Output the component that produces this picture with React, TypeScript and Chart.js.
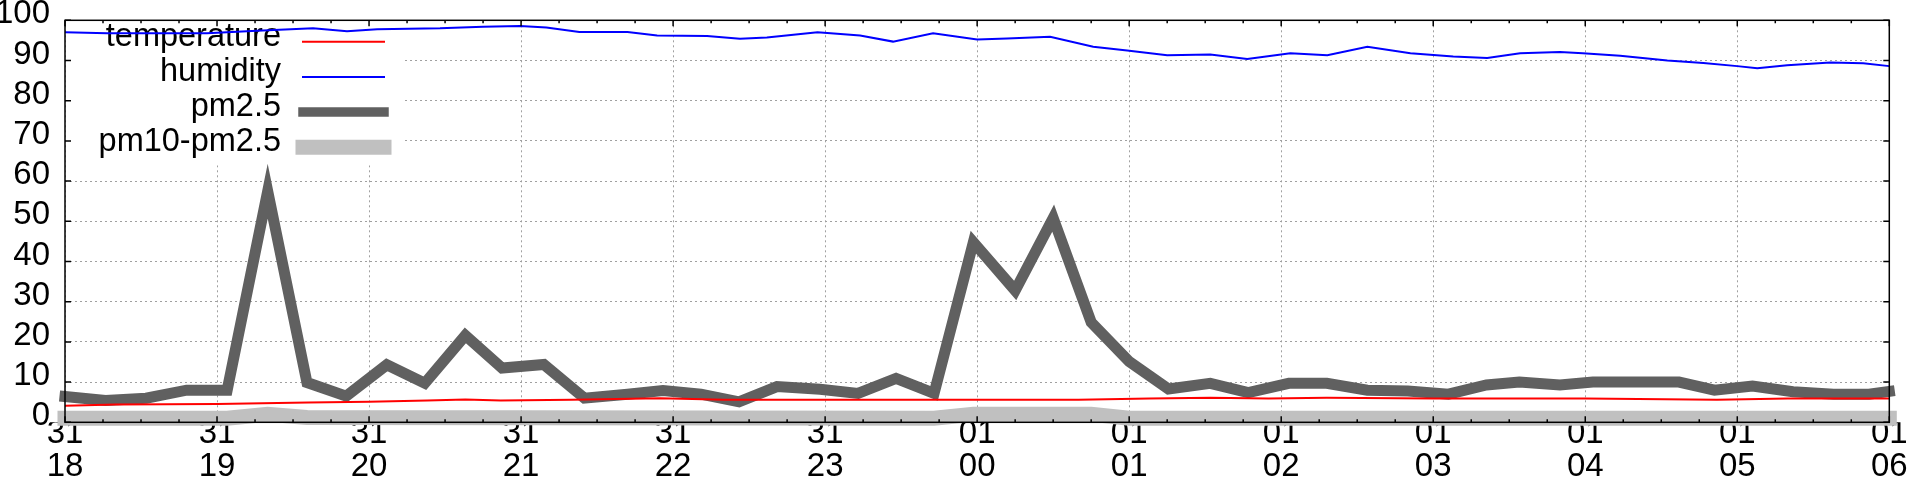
import React, { useEffect, useRef } from 'react';
import { Chart, registerables } from 'chart.js';

Chart.register(...registerables);

// ---- data (x = minutes after 31 18:00) ----
const legendLabels = ['temperature', 'humidity', 'pm2.5', 'pm10-pm2.5'];

const pm25Times = [0, 16, 32, 48, 64, 80, 95.5, 111, 127, 142, 158, 172.5, 189, 205, 222, 236, 251, 266, 281, 298, 313, 328, 343, 358.5, 375, 390, 405, 420, 435.5, 452, 467, 483, 498, 514, 530, 546, 561, 574, 590, 603, 620, 637, 651, 666, 682, 698, 712, 720];
const pm25Values = [6.4, 5.4, 6.0, 8.0, 8.0, 57.5, 9.9, 6.5, 14.3, 9.7, 21.6, 13.5, 14.4, 6.0, 7.0, 7.9, 7.0, 5.1, 8.9, 8.2, 7.2, 10.9, 7.2, 44.8, 32.8, 50.8, 24.9, 15.1, 8.3, 9.7, 7.4, 9.7, 9.7, 8.0, 7.8, 7.0, 9.3, 10.0, 9.3, 10.0, 10.0, 10.0, 8.0, 9.0, 7.6, 7.0, 7.0, 7.7];

const pmCoarseTimes = [0, 64, 80, 95.5, 343, 358.5, 375, 390, 405, 420, 720];
const pmCoarseValues = [1.0, 1.0, 2.0, 1.2, 1.0, 2.0, 2.0, 2.0, 2.0, 1.0, 1.0];

const humidityTimes = [0, 16.6, 33.6, 56, 75.8, 97.9, 111.3, 123.2, 148, 165, 179.6, 190, 203, 222, 233.7, 253.4, 266.4, 277, 297, 313.8, 326.8, 342.6, 360, 371.8, 388.8, 405.8, 419.2, 435, 452, 466.6, 483.6, 498.2, 514, 531, 547.9, 561.3, 574.3, 590, 599, 613.8, 632.4, 646.6, 660, 667.9, 679.7, 696.7, 709.7, 720];
const humidityValues = [97.0, 96.8, 96.8, 96.8, 97.4, 98.0, 97.3, 97.8, 98.0, 98.4, 98.6, 98.2, 97.1, 97.1, 96.2, 96.1, 95.4, 95.7, 97.0, 96.2, 94.7, 96.8, 95.2, 95.5, 95.9, 93.4, 92.5, 91.3, 91.5, 90.4, 91.8, 91.3, 93.4, 91.8, 91.0, 90.6, 91.8, 92.1, 91.8, 91.2, 90.0, 89.4, 88.6, 88.1, 88.8, 89.5, 89.3, 88.6];

const temperatureTimes = [0, 20, 60, 96, 120, 143, 158, 172, 200, 235, 260, 400, 428, 452, 475, 498, 540, 600, 652, 680, 720];
const temperatureValues = [4.1, 4.4, 4.55, 4.9, 5.1, 5.4, 5.7, 5.4, 5.6, 6.0, 5.6, 5.6, 5.9, 6.1, 5.9, 6.1, 5.9, 5.9, 5.6, 5.9, 5.9];

const startHour = 18;
const startDay = '31';
const nextDay = '01';
const xMin = 0;
const xMax = 720;
const yMin = 0;
const yMax = 100;

const FONT = '"Liberation Sans", Arial, sans-serif';
const COLORS = ['#ff0000', '#0000ff', '#606060', '#c0c0c0'];
const WIDTHS = [2, 2, 11, 15];

const zip = (xs: number[], ys: number[]) => xs.map((x, i) => ({ x, y: ys[i] }));

const decor = {
  id: 'gnuplotDecor',
  beforeDatasetsDraw(chart: any) {
    const { ctx, chartArea: a } = chart;
    ctx.save();
    // legend box (white, hides grid)
    ctx.fillStyle = '#ffffff';
    ctx.fillRect(a.left + 1, a.top + 1, 338, 144);
    ctx.font = `32.5px ${FONT}`;
    ctx.textAlign = 'right';
    ctx.textBaseline = 'alphabetic';
    legendLabels.forEach((lab, i) => {
      const y = a.top + 21.4 + i * 35.2;
      ctx.fillStyle = '#000';
      ctx.fillText(lab, a.left + 216, y + 4);
      ctx.beginPath();
      ctx.strokeStyle = COLORS[i];
      ctx.lineWidth = i === 2 ? 9.5 : WIDTHS[i];
      ctx.lineCap = 'square';
      ctx.moveTo(a.left + 238, y);
      ctx.lineTo(a.left + 319, y);
      ctx.stroke();
    });
    ctx.restore();
  },
  afterDatasetsDraw(chart: any) {
    const { ctx, chartArea: a, scales } = chart;
    const xs = scales.x;
    const ys = scales.y;
    ctx.save();
    ctx.strokeStyle = '#000';
    ctx.lineWidth = 1.5;
    ctx.lineCap = 'butt';
    ctx.beginPath();
    for (let v = xMin; v <= xMax; v += 15) {
      const px = xs.getPixelForValue(v);
      const len = v % 60 === 0 ? 6 : 3;
      ctx.moveTo(px, a.bottom);
      ctx.lineTo(px, a.bottom - len);
      ctx.moveTo(px, a.top);
      ctx.lineTo(px, a.top + len);
    }
    for (let v = yMin; v <= yMax; v += 10) {
      const py = ys.getPixelForValue(v);
      ctx.moveTo(a.left, py);
      ctx.lineTo(a.left + 6, py);
      ctx.moveTo(a.right, py);
      ctx.lineTo(a.right - 6, py);
    }
    ctx.stroke();
    ctx.strokeRect(a.left, a.top, a.right - a.left, a.bottom - a.top);
    ctx.restore();
  },
};

const noPad = (s: any) => {
  s.paddingTop = 0;
  s.paddingBottom = 0;
  s.paddingLeft = 0;
  s.paddingRight = 0;
};

export default function App() {
  const ref = useRef<HTMLCanvasElement>(null);
  useEffect(() => {
    const chart = new Chart(ref.current as HTMLCanvasElement, {
      type: 'line',
      data: {
        datasets: [
          { label: 'temperature', data: zip(temperatureTimes, temperatureValues), borderColor: COLORS[0], borderWidth: WIDTHS[0], pointRadius: 0, order: 0, clip: false } as any,
          { label: 'humidity', data: zip(humidityTimes, humidityValues), borderColor: COLORS[1], borderWidth: WIDTHS[1], pointRadius: 0, order: 3, clip: false } as any,
          { label: 'pm2.5', data: zip(pm25Times, pm25Values), borderColor: COLORS[2], borderWidth: WIDTHS[2], borderCapStyle: 'square', borderJoinStyle: 'miter', pointRadius: 0, order: 2, clip: false } as any,
          { label: 'pm10-pm2.5', data: zip(pmCoarseTimes, pmCoarseValues), borderColor: COLORS[3], borderWidth: WIDTHS[3], borderCapStyle: 'square', pointRadius: 0, order: 1, clip: false } as any,
        ],
      },
      options: {
        animation: false,
        responsive: false,
        devicePixelRatio: 1,
        layout: { padding: { left: 0, right: 30.7, top: 20.3, bottom: 0 } },
        plugins: { legend: { display: false }, tooltip: { enabled: false } },
        elements: { line: { tension: 0 } },
        scales: {
          x: {
            type: 'linear',
            min: xMin,
            max: xMax,
            afterFit: (s: any) => { s.height = 57.7; noPad(s); },
            grid: { color: '#a0a0a0', lineWidth: 1, drawTicks: false },
            border: { display: false, dash: [2, 3] },
            ticks: {
              stepSize: 60,
              autoSkip: false,
              maxRotation: 0,
              padding: -4.3,
              color: '#000',
              font: { family: FONT, size: 33, lineHeight: 0.985 },
              callback: (v: any) => {
                const h = startHour + Number(v) / 60;
                const day = h < 24 ? startDay : nextDay;
                const hh = String(Math.round(h) % 24).padStart(2, '0');
                return [day, hh];
              },
            },
          },
          y: {
            type: 'linear',
            min: yMin,
            max: yMax,
            afterFit: (s: any) => { s.width = 65; noPad(s); },
            grid: { color: '#a0a0a0', lineWidth: 1, drawTicks: false },
            border: { display: false, dash: [2, 3] },
            ticks: {
              stepSize: 10,
              autoSkip: false,
              padding: 15,
              labelOffset: -6,
              color: '#000',
              font: { family: FONT, size: 33 },
            },
          },
        },
      },
      plugins: [decor],
    });
    return () => chart.destroy();
  }, []);
  return (
    <div style={{ position: 'fixed', left: 0, top: 0, width: 1920, height: 480, background: '#fff' }}>
      <canvas ref={ref} width={1920} height={480} style={{ display: 'block', width: 1920, height: 480 }} />
    </div>
  );
}
